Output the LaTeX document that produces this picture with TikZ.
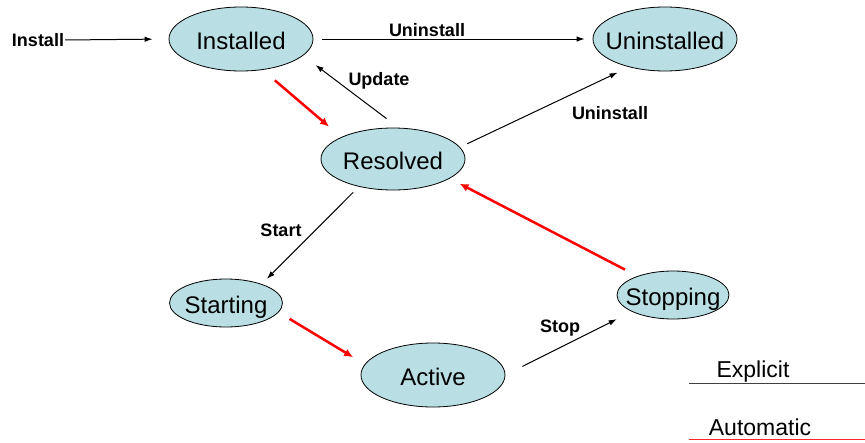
\documentclass[tikz,border=0pt]{standalone}
\usepackage{fontspec}
\setmainfont{Liberation Sans}
\usetikzlibrary{shapes.geometric}
\usetikzlibrary{arrows.meta}
\definecolor{statefill}{RGB}{185,223,228}

\begin{document}
\begin{tikzpicture}[every node/.style={inner sep=0pt,black},
	state/.style={ellipse, fill=statefill, draw=black, line width=0.8pt,
		inner xsep=-12pt, text height=20pt, text depth=0pt, font=\fontsize{24}{28}\selectfont},
	lbl/.style={font=\fontsize{18}{21}\selectfont\bfseries},
	legend/.style={font=\fontsize{23}{27}\selectfont},
	every edge/.style={
	draw,line width=1pt, -{Latex[length=8pt,width=5.5pt]}, color=black},
	redflow/.style={line width=2.5pt, -{Latex[length=9pt,width=8pt]}, color=red}
]
\useasboundingbox (0pt,0pt) rectangle (865pt,-442pt);
\node (Installed) [state, minimum width=144pt, minimum height=64pt] at (241pt, -39pt) {Installed};
\node (Uninstalled) [state, minimum width=144pt, minimum height=64pt] at (665pt, -39pt) {Uninstalled};
\node (Resolved) [state, minimum width=144pt, minimum height=62pt] at (393pt, -159pt) {Resolved};
\node (Starting) [state, minimum width=113pt, minimum height=48pt] at (226pt, -303pt) {Starting};
\node (Active) [state, minimum width=144pt, minimum height=64pt] at (433pt, -375pt) {Active};
\node (Stopping) [state, minimum width=112pt, minimum height=48pt] at (673pt, -295pt) {Stopping};
\node (lblInstall) [lbl] at (38pt, -40pt) {Install};
\node (lblUninstallTop) [lbl] at (427pt, -30pt) {Uninstall};
\node (lblUpdate) [lbl] at (379pt, -81pt) {Update};
\node (lblUninstall) [lbl] at (610pt, -113pt) {Uninstall};
\node (lblStart) [lbl] at (281pt, -230pt) {Start};
\node (lblStop) [lbl] at (560pt, -328pt) {Stop};
\node (lgExplicit) [legend] at (753pt, -372pt) {Explicit};
\node (lgAutomatic) [legend] at (760pt, -427pt) {Automatic};
\coordinate (lgExplicitL) at (689pt, -383pt);
\coordinate (lgExplicitR) at (865pt, -383pt);
\coordinate (lgAutomaticL) at (689pt, -439pt);
\coordinate (lgAutomaticR) at (865pt, -439pt);
\draw[line width=1pt, black!75] (lgExplicitL) -- (lgExplicitR);
\draw[line width=1pt, red!85] (lgAutomaticL) -- (lgAutomaticR);
\path 
(lblInstall.east) edge[shorten <=1pt, shorten >=16pt] (Installed.west)
(Installed.east) edge[shorten <=9pt, shorten >=8pt] (Uninstalled.west)
(Resolved.80.9) edge[shorten <=15pt, shorten >=15.6pt] (Installed.-15.1)
(Resolved.10.8) edge[shorten <=8pt, shorten >=12.7pt] (Uninstalled.-142.9)
(Resolved.-141.5) edge[shorten <=8pt, shorten >=7.3pt] (Starting.28.4)
(Active.-0.5) edge[shorten <=19pt, shorten >=16.8pt] (Stopping.-158.2)
(Installed.-55.8) edge[redflow, shorten <=16pt, shorten >=16pt] (Resolved.157.4)
(Starting.-10.1) edge[redflow, shorten <=12.8pt, shorten >=13.5pt] (Active.171.7)
(Stopping.152.5) edge[redflow, shorten <=14pt, shorten >=11.1pt] (Resolved.-19.9);
\end{tikzpicture}
\end{document}
